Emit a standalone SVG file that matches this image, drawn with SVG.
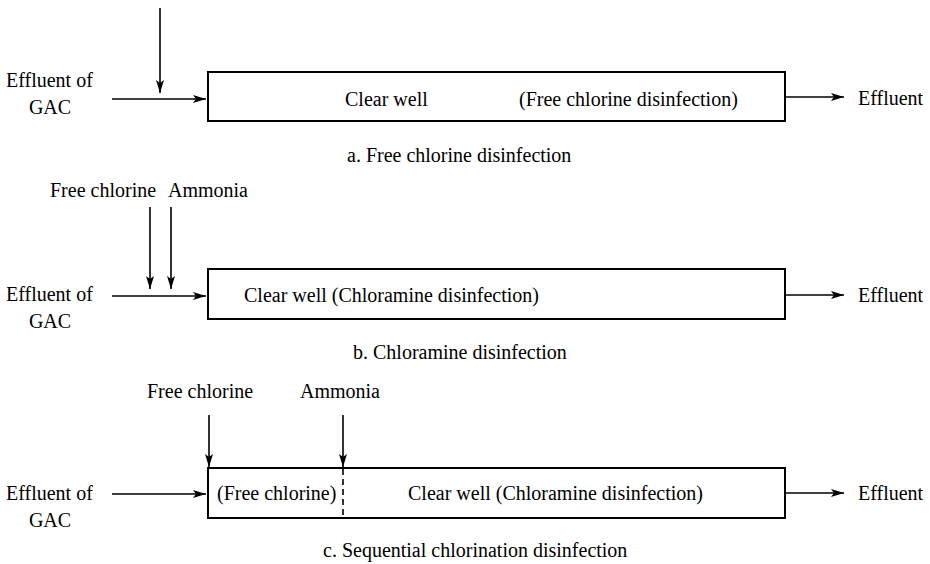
<svg xmlns="http://www.w3.org/2000/svg" width="930" height="564" viewBox="0 0 930 564">
<style>
text{font-family:"Liberation Serif","Times New Roman",serif;font-size:20px;fill:#000}
.box{fill:#fff;stroke:#000;stroke-width:2}
.ln{stroke:#000;stroke-width:1.6;fill:none}
.dash{stroke:#000;stroke-width:1.6;stroke-dasharray:6,4;fill:none}
</style>
<defs>
<marker id="ah" markerWidth="14" markerHeight="10" refX="13" refY="4" orient="auto" markerUnits="userSpaceOnUse">
<path d="M0,0 L13,4 L0,8 L3,4 z" fill="#000"/>
</marker>
</defs>
<rect width="930" height="564" fill="#fff"/>

<g id="row-a">
<g id="a-input"><text x="6" y="87">Effluent of</text><text x="50" y="114" text-anchor="middle">GAC</text></g>
<g id="a-well"><rect class="box" x="208" y="72" width="577" height="49"/>
<text x="345" y="106">Clear well</text><text x="519" y="106">(Free chlorine disinfection)</text></g>
<g id="a-out"><text x="858" y="105">Effluent</text></g>
<text x="347" y="162">a. Free chlorine disinfection</text>
</g>

<g id="row-b">
<g id="b-input"><text x="6" y="301">Effluent of</text><text x="50" y="328" text-anchor="middle">GAC</text></g>
<g id="b-cl"><text x="50" y="197">Free chlorine</text></g>
<g id="b-nh"><text x="168" y="197">Ammonia</text></g>
<g id="b-well"><rect class="box" x="208" y="269" width="577" height="50"/>
<text x="244" y="302">Clear well (Chloramine disinfection)</text></g>
<g id="b-out"><text x="858" y="302">Effluent</text></g>
<text x="353" y="359">b. Chloramine disinfection</text>
</g>

<g id="row-c">
<g id="c-input"><text x="6" y="500">Effluent of</text><text x="50" y="527" text-anchor="middle">GAC</text></g>
<g id="c-cl"><text x="147" y="398">Free chlorine</text></g>
<g id="c-nh"><text x="300" y="398">Ammonia</text></g>
<g id="c-well"><rect class="box" x="208" y="468" width="577" height="50"/>
<text x="217" y="500">(Free chlorine)</text>
<text x="408" y="500">Clear well  (Chloramine disinfection)</text></g>
<g id="c-out"><text x="858" y="500">Effluent</text></g>
<text x="323" y="557">c. Sequential chlorination disinfection</text>
</g>

<g id="connectors">
<line class="ln" x1="112" y1="99" x2="206" y2="99" marker-end="url(#ah)"/>
<line class="ln" x1="160" y1="8" x2="160" y2="93" marker-end="url(#ah)"/>
<line class="ln" x1="786" y1="97" x2="844" y2="97" marker-end="url(#ah)"/>

<line class="ln" x1="112" y1="296" x2="206" y2="296" marker-end="url(#ah)"/>
<line class="ln" x1="150" y1="207" x2="150" y2="289" marker-end="url(#ah)"/>
<line class="ln" x1="171" y1="207" x2="171" y2="289" marker-end="url(#ah)"/>
<line class="ln" x1="786" y1="295" x2="844" y2="295" marker-end="url(#ah)"/>

<line class="ln" x1="112" y1="494" x2="206" y2="494" marker-end="url(#ah)"/>
<line class="ln" x1="209" y1="415" x2="209" y2="467" marker-end="url(#ah)"/>
<line class="ln" x1="343" y1="415" x2="343" y2="467" marker-end="url(#ah)"/>
<line class="dash" x1="343" y1="469" x2="343" y2="518"/>
<line class="ln" x1="786" y1="493" x2="844" y2="493" marker-end="url(#ah)"/>
</g>
</svg>
